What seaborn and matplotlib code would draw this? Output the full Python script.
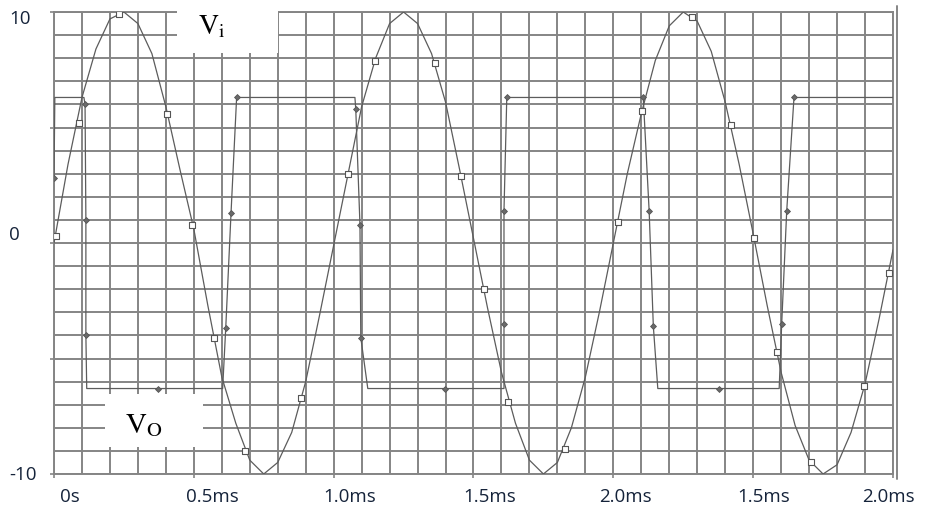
import matplotlib
matplotlib.use("Agg")
import numpy as np
import pandas as pd
import matplotlib.pyplot as plt
import seaborn as sns
from matplotlib.patches import Rectangle
from matplotlib.transforms import ScaledTranslation

# ---------------- data ----------------
# Vi : sine-like input, sampled every 0.05 ms (time in ms, value in V)
vi_t = [0.00, 0.05, 0.10, 0.15, 0.20, 0.25, 0.30, 0.35, 0.40, 0.45,
        0.50, 0.55, 0.60, 0.65, 0.70, 0.75, 0.80, 0.85, 0.90, 0.95,
        1.00, 1.05, 1.10, 1.15, 1.20, 1.25, 1.30, 1.35, 1.40, 1.45,
        1.50, 1.55, 1.60, 1.65, 1.70, 1.75, 1.80, 1.85, 1.90, 1.95,
        2.00, 2.05, 2.10, 2.15, 2.20, 2.25, 2.30, 2.35, 2.40, 2.45,
        2.50, 2.55, 2.60, 2.65, 2.70, 2.75, 2.80, 2.85, 2.90, 2.95, 3.00]
vi_v = [0.0, 3.4, 6.3, 8.4, 9.7, 10.0, 9.5, 8.2, 5.9, 3.2,
        0.6, -2.7, -5.8, -7.8, -9.4, -10.0, -9.5, -8.2, -6.0, -3.1,
        -0.1, 2.9, 5.9, 8.0, 9.5, 10.0, 9.5, 8.2, 6.1, 3.2,
        0.2, -2.8, -5.6, -7.8, -9.4, -10.0, -9.5, -8.0, -5.8, -3.0,
        0.0, 3.0, 5.6, 7.9, 9.4, 10.0, 9.6, 8.3, 6.1, 3.4,
        0.4, -2.7, -5.6, -7.9, -9.4, -10.0, -9.6, -8.2, -6.1, -3.3, -0.3]

# square markers on Vi
vi_mark_t = [0.007, 0.091, 0.233, 0.404, 0.495, 0.571, 0.682, 0.882, 1.053, 1.148,
             1.362, 1.455, 1.536, 1.625, 1.828, 2.017, 2.104, 2.282, 2.420, 2.503,
             2.584, 2.706, 2.898, 2.985]
vi_mark_v = [0.3, 5.2, 9.9, 5.6, 0.8, -4.1, -9.0, -6.7, 3.0, 7.9,
             7.8, 2.9, -2.0, -6.9, -8.9, 0.9, 5.7, 9.8, 5.1, 0.2,
             -4.7, -9.5, -6.2, -1.3]

# Vo : comparator output path
vo_t = [0.000, 0.003, 0.107, 0.111, 0.114, 0.114, 0.117, 0.373, 0.603, 0.614,
        0.633, 0.653, 1.076, 1.079, 1.094, 1.097, 1.122, 1.398, 1.609, 1.609,
        1.609, 1.619, 2.107, 2.128, 2.143, 2.159, 2.378, 2.593, 2.602, 2.620,
        2.646, 3.000]
vo_v = [2.8, 6.3, 6.3, 6.0, 1.0, -4.0, -6.3, -6.3, -6.3, -3.7,
        1.3, 6.3, 6.3, 5.8, 0.8, -4.1, -6.3, -6.3, -6.3, -3.5,
        1.4, 6.3, 6.3, 1.4, -3.6, -6.3, -6.3, -6.3, -3.5, 1.4,
        6.3, 6.3]

# diamond markers on Vo
vo_mark_t = [0.000, 0.111, 0.114, 0.114, 0.373, 0.614, 0.633, 0.653, 1.079, 1.094,
             1.097, 1.398, 1.609, 1.609, 1.619, 2.107, 2.128, 2.143, 2.378, 2.602,
             2.620, 2.646]
vo_mark_v = [2.8, 6.0, 1.0, -4.0, -6.3, -3.7, 1.3, 6.3, 5.8, 0.8,
             -4.1, -6.3, -3.5, 1.4, 6.3, 6.3, 1.4, -3.6, -6.3, -3.5,
             1.4, 6.3]

x_tick_pos = [0.0, 0.5, 1.0, 1.5, 2.0, 2.5, 3.0]
x_tick_labels = ["0s", "0.5ms", "1.0ms", "1.5ms", "2.0ms", "1.5ms", "2.0ms"]
y_tick_pos = [-10, -5, 0, 5, 10]
y_tick_labels = ["-10", "", "0", "", "10"]

# ---------------- style ----------------
sns.set_theme(style="white")
plt.rcParams["font.family"] = ["Open Sans", "DejaVu Sans"]
plt.rcParams["mathtext.fontset"] = "stix"

GRID = "#858585"
LINE = "#5c5c5c"
TXT = "#15233a"

fig = plt.figure(figsize=(9.25, 5.11), dpi=100)
ax = fig.add_axes([54 / 925, 1 - 474 / 511, (893 - 54) / 925, (474 - 12) / 511])

sns.lineplot(x=vi_t, y=vi_v, ax=ax, color=LINE, lw=0.9, sort=False, estimator=None, zorder=3)
sns.lineplot(x=vo_t, y=vo_v, ax=ax, color=LINE, lw=0.9, sort=False, estimator=None, zorder=3)
sns.scatterplot(x=vi_mark_t, y=vi_mark_v, ax=ax, marker="s", s=14, facecolor="white",
                edgecolor="#555555", linewidth=0.8, zorder=4)
sns.scatterplot(x=vo_mark_t, y=vo_mark_v, ax=ax, marker="D", s=9, color="#6a6a6a",
                edgecolor="#555555", linewidth=0.6, zorder=4)

ax.set_xlim(0, 3.0)
ax.set_ylim(-10, 10)
ax.set_xticks(x_tick_pos)
ax.set_xticklabels(x_tick_labels)
ax.set_xticks(np.arange(0, 3.0001, 0.1), minor=True)
ax.set_yticks(y_tick_pos)
ax.set_yticklabels(y_tick_labels)
ax.set_yticks(np.arange(-10, 11, 1), minor=True)
ax.grid(which="both", color=GRID, lw=1.4)
ax.set_axisbelow(True)
for s in ax.spines.values():
    s.set_color(GRID)
    s.set_linewidth(1.4)

ax.tick_params(axis="both", which="minor", length=0)
ax.tick_params(axis="x", which="major", length=3, width=1.2, color=GRID,
               labelsize=13.5, labelcolor=TXT, pad=7, direction="out", bottom=True)
ax.tick_params(axis="y", which="major", length=3, width=1.2, color=GRID,
               labelsize=13.5, labelcolor=TXT, pad=29.5, direction="out", left=True)

x_off = [16, 19, 16, 16, 12, 11, -5]
for lab, dx in zip(ax.get_xticklabels(), x_off):
    lab.set_transform(lab.get_transform() + ScaledTranslation(dx / 100, 0, fig.dpi_scale_trans))
y_off = [1.5, 0, 10, 0, -5]
for lab, dy in zip(ax.get_yticklabels(), y_off):
    lab.set_horizontalalignment("left")
    lab.set_transform(lab.get_transform() + ScaledTranslation(0, dy / 100, fig.dpi_scale_trans))

# white label boxes
ax.add_patch(Rectangle((0.44, 8.24), 0.36, 2.4, facecolor="white", edgecolor="none",
                       zorder=6, clip_on=False))
ax.add_patch(Rectangle((0.182, -8.85), 0.35, 2.33, facecolor="white", edgecolor="none",
                       zorder=6, clip_on=False))
ax.text(0.515, 9.02, r"$\mathrm{V}_\mathrm{i}$", fontsize=20, color="black",
        ha="left", va="baseline", zorder=7)
ax.text(0.254, -8.24, r"$\mathrm{V}_\mathrm{O}$", fontsize=21, color="black",
        ha="left", va="baseline", zorder=7)

# extra right border line
ax.plot([3.014, 3.014], [-10.2, 10.24], color=GRID, lw=1.4, clip_on=False, zorder=2)

fig.savefig("out.png", dpi=100, facecolor="white")
